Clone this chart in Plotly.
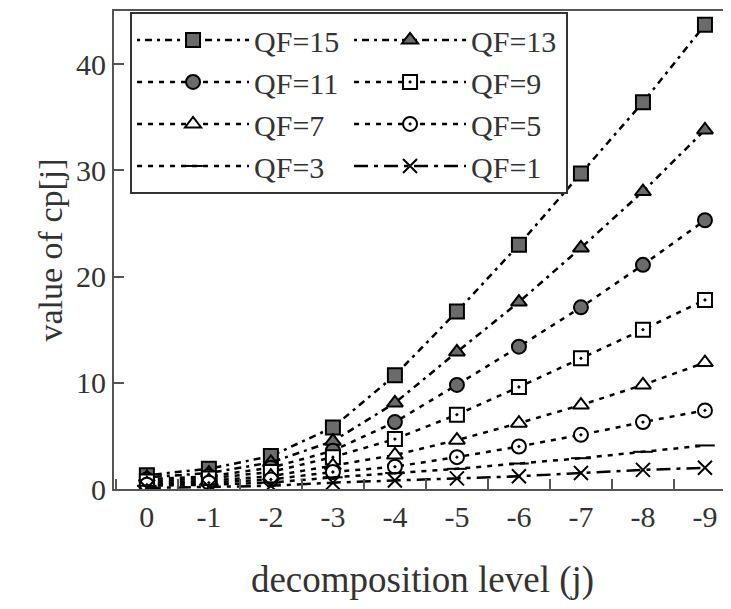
import plotly.graph_objects as go

# ===== data =====
LEVELS = ["0", "-1", "-2", "-3", "-4", "-5", "-6", "-7", "-8", "-9"]
QF15 = [1.3, 1.9, 3.1, 5.8, 10.7, 16.7, 23.0, 29.7, 36.4, 43.7]
QF13 = [1.1, 1.5, 2.5, 4.5, 8.1, 12.9, 17.6, 22.7, 28.0, 33.8]
QF11 = [0.9, 1.2, 2.0, 3.6, 6.3, 9.8, 13.4, 17.1, 21.1, 25.3]
QF9 = [0.7, 1.0, 1.6, 3.0, 4.7, 7.0, 9.6, 12.3, 15.0, 17.8]
QF7 = [0.5, 0.8, 1.2, 2.2, 3.2, 4.6, 6.2, 7.9, 9.8, 11.9]
QF5 = [0.4, 0.6, 0.9, 1.6, 2.1, 3.0, 4.0, 5.1, 6.3, 7.4]
QF3 = [0.3, 0.4, 0.6, 1.1, 1.5, 1.9, 2.4, 2.9, 3.5, 4.1]
QF1 = [0.1, 0.2, 0.3, 0.6, 0.8, 1.0, 1.2, 1.5, 1.8, 2.0]

FONT = "Liberation Serif"
GRAY = "#6b6b6b"

series = [
    ("QF=15", QF15, "square", GRAY, "3px,5px,7px,5px"),
    ("QF=13", QF13, "triangle-up", GRAY, "3px,5px,7px,5px"),
    ("QF=11", QF11, "circle", GRAY, "5px,6px"),
    ("QF=9", QF9, "square-dot", "white", "5px,6px"),
    ("QF=7", QF7, "triangle-up", "white", "5px,6px"),
    ("QF=5", QF5, "circle-dot", "white", "5px,6px"),
    ("QF=3", QF3, "line-ew", "black", "5px,6px"),
    ("QF=1", QF1, "x-thin", "black", "14px,6px,4px,6px"),
]

fig = go.Figure()
for name, vals, sym, fill, dash in series:
    fig.add_trace(go.Scatter(
        x=LEVELS, y=vals, mode="lines+markers", name=name,
        line=dict(color="black", width=2.5, dash=dash),
        marker=dict(symbol=sym, size=14, color=fill,
                    line=dict(color="black", width=2)),
    ))

# page body has an 8px margin, so the figure is 8px smaller and shifted
fig.update_layout(
    width=723, height=601,
    plot_bgcolor="white", paper_bgcolor="white",
    margin=dict(l=106, r=0, t=3, b=120, autoexpand=False),
    font=dict(family=FONT, color="#333333", size=30),
    showlegend=True,
    legend=dict(
        orientation="h", x=0.026, y=0.998, xanchor="left", yanchor="top",
        entrywidth=90, entrywidthmode="pixels",
        bordercolor="#333333", borderwidth=2, bgcolor="white",
        font=dict(family=FONT, size=30, color="#333333"),
        tracegroupgap=0, itemwidth=112,
    ),
    xaxis=dict(
        type="category", range=[-0.53, 9.42], automargin=False,
        showline=True, linecolor="#555555", linewidth=2, mirror=True,
        ticks="inside", ticklen=10, tickwidth=1.5, tickcolor="#555555",
        tickson="boundaries", showgrid=False, zeroline=False,
        tickfont=dict(size=30),
        title=dict(text="decomposition level (j)", font=dict(size=37), standoff=34),
    ),
    yaxis=dict(
        range=[0, 45], tickvals=[0, 10, 20, 30, 40], automargin=False,
        showline=True, linecolor="#555555", linewidth=2,
        ticks="inside", ticklen=10, tickwidth=1.5, tickcolor="#555555",
        showgrid=False, zeroline=False,
        tickfont=dict(size=30),
        title=dict(text="value of cp[j]", font=dict(size=34), standoff=3),
    ),
)

fig.write_html("out.html")
